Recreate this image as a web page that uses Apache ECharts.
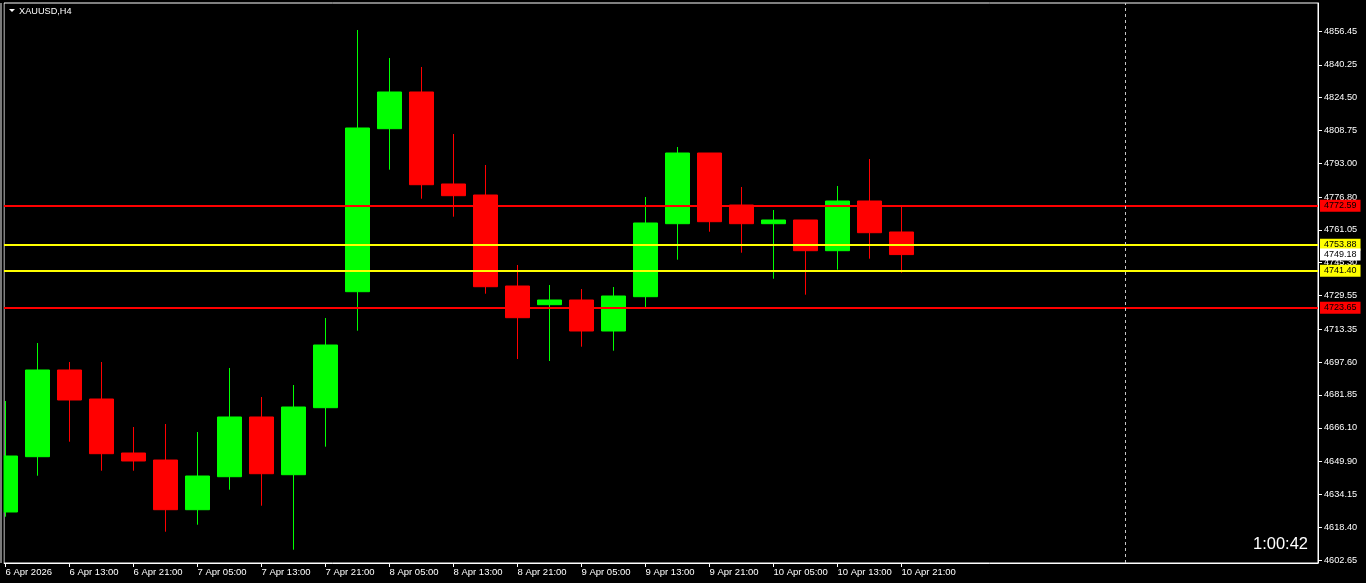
<!DOCTYPE html>
<html><head><meta charset="utf-8">
<script src="https://cdn.jsdelivr.net/npm/echarts@6/dist/echarts.min.js"></script>
<style>html,body{margin:0;padding:0;background:#000;}#c{width:1366px;height:583px;}</style>
</head><body><div id="c"></div>
<script>
// ---- data ----
const symbolName = 'XAUUSD,H4';
const timeLabels = ['6 Apr 2026','6 Apr 13:00','6 Apr 21:00','7 Apr 05:00','7 Apr 13:00','7 Apr 21:00','8 Apr 05:00','8 Apr 13:00','8 Apr 21:00','9 Apr 05:00','9 Apr 13:00','9 Apr 21:00','10 Apr 05:00','10 Apr 13:00','10 Apr 21:00'];
const opens  = [4625.68,4652.21,4693.81,4679.89,4653.98,4650.62,4626.78,4642.61,4671.26,4643.57,4675.72,4731.38,4809.58,4827.19,4783.05,4777.77,4734.11,4725.14,4727.39,4712.52,4728.98,4764.00,4797.92,4772.97,4764.00,4765.78,4751.05,4774.89,4760.02];
const closes = [4652.54,4693.81,4679.41,4653.65,4650.15,4626.78,4642.95,4671.26,4644.05,4676.05,4705.80,4809.92,4827.19,4782.71,4777.44,4733.77,4718.90,4727.39,4712.52,4729.31,4764.34,4797.92,4764.96,4764.00,4765.78,4751.05,4774.89,4759.68,4749.18];
const lows   = [4623.42,4643.09,4659.41,4645.49,4645.49,4616.22,4619.58,4636.37,4628.70,4607.59,4657.01,4712.66,4789.91,4776.00,4767.36,4730.42,4699.08,4698.12,4704.99,4703.07,4723.22,4746.73,4760.16,4750.09,4737.61,4729.94,4741.93,4747.21,4740.49];
const highs  = [4678.93,4706.76,4697.65,4697.65,4666.46,4667.90,4664.06,4694.77,4680.85,4686.61,4718.76,4856.94,4843.50,4839.19,4807.04,4792.17,4744.19,4734.59,4732.67,4733.63,4776.81,4800.80,4797.92,4781.61,4770.57,4765.78,4782.09,4795.04,4772.01];
const priceTicks = [4856.45,4840.25,4824.50,4808.75,4793.00,4776.80,4761.05,4745.30,4729.55,4713.35,4697.60,4681.85,4666.10,4649.90,4634.15,4618.40,4602.65];
const redLevels = [4772.59, 4723.65];
const yellowLevels = [4753.88, 4741.40];
const bidPrice = 4749.18;
const separatorIndex = 35;
const timerText = '1:00:42';
// ---- chart ----
const FONT = 'Liberation Sans';
const candles = opens.map((o, i) => [i, o, closes[i], lows[i], highs[i]]);
const labelTickValues = timeLabels.map((_, k) => k * 2);

function levelItem(v, color) {
  return {
    yAxis: v,
    lineStyle: { color: color, width: 2, type: 'solid' },
    label: {
      show: true, position: 'end', distance: 2,
      formatter: v.toFixed(2),
      backgroundColor: color, color: '#000',
      fontFamily: FONT, fontSize: 9, lineHeight: 9,
      padding: [2, 4, 1, 4]
    }
  };
}
const markData = [];
redLevels.forEach(v => markData.push(levelItem(v, '#ff0000')));
yellowLevels.forEach(v => markData.push(levelItem(v, '#ffff00')));
const bidItem = levelItem(bidPrice, '#ffffff');
bidItem.lineStyle = { color: 'rgba(0,0,0,0)', width: 0 };
markData.push(bidItem);
markData.push({ xAxis: separatorIndex, lineStyle: { color: '#c8c8c8', width: 1, type: [3, 3] }, label: { show: false } });

const chart = echarts.init(document.getElementById('c'), null, { renderer: 'canvas' });
chart.setOption({
  animation: false,
  backgroundColor: '#000000',
  grid: { left: 4, top: 3, width: 1314, height: 560, show: true, borderColor: '#ffffff', borderWidth: 1, backgroundColor: '#000000' },
  xAxis: {
    type: 'value', min: -0.046875, max: 41.015625,
    axisLine: { show: true, onZero: false, lineStyle: { color: '#ffffff', width: 1 } },
    axisTick: { show: true, customValues: labelTickValues, length: 4, lineStyle: { color: '#ffffff' } },
    axisLabel: {
      customValues: labelTickValues, color: '#ffffff', fontFamily: FONT, fontSize: 9.5, lineHeight: 10,
      align: 'left', margin: 4,
      formatter: v => timeLabels[Math.round(v / 2)]
    },
    splitLine: { show: false }
  },
  yAxis: {
    type: 'value', position: 'right', min: 4601.21, max: 4869.89,
    axisLine: { show: true, onZero: false, lineStyle: { color: '#ffffff', width: 1 } },
    axisTick: { show: true, customValues: priceTicks, length: 4, lineStyle: { color: '#ffffff' } },
    axisLabel: {
      customValues: priceTicks, color: '#ffffff', fontFamily: FONT, fontSize: 9.2, margin: 6,
      formatter: v => v.toFixed(2)
    },
    splitLine: { show: false }
  },
  series: [{
    type: 'candlestick',
    data: candles,
    encode: { x: 0, y: [1, 2, 3, 4] },
    barWidth: 24,
    clip: true,
    itemStyle: { color: '#00ff00', color0: '#ff0000', borderColor: '#00ff00', borderColor0: '#ff0000', borderWidth: 1 },
    markLine: { silent: true, symbol: ['none', 'none'], animation: false, data: markData }
  }],
  graphic: [
    { type: 'rect', shape: { x: 0, y: 0, width: 3.5, height: 583 }, style: { fill: '#000000' }, z: 90 },
    { type: 'rect', shape: { x: 0, y: 3, width: 2, height: 560 }, style: { fill: '#7a7a7a' }, z: 91 },
    { type: 'polygon', shape: { points: [[9, 9], [15, 9], [12, 12]] }, style: { fill: '#ffffff' }, z: 100 },
    { type: 'text', x: 19, y: 11, style: { text: symbolName, fill: '#ffffff', font: '9.2px "Liberation Sans"', textVerticalAlign: 'middle' }, z: 100 },
    { type: 'text', x: 1308, y: 544, style: { text: timerText, fill: '#ffffff', font: '16.5px "Liberation Sans"', textAlign: 'right', textVerticalAlign: 'middle' }, z: 100 }
  ]
});
</script></body></html>
